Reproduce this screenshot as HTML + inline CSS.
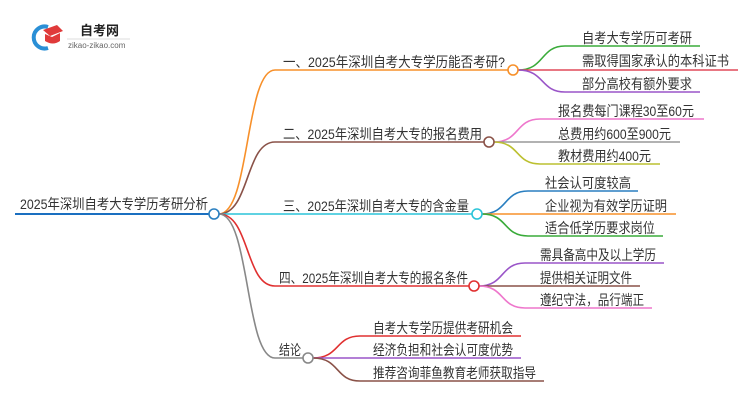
<!DOCTYPE html>
<html><head><meta charset="utf-8"><style>
body{margin:0;background:#fff;}
svg text{font-family:"Liberation Sans","Noto Sans CJK SC",sans-serif;font-size:14px;fill:#333;}
</style></head><body>
<svg width="750" height="410" viewBox="0 0 750 410" xmlns="http://www.w3.org/2000/svg">
<path d="M48,27 A11,11 0 1 0 48,48" stroke="#2a8fd6" stroke-width="4" fill="none"/>
<polygon points="43,30 57,25 63,31 50,36" fill="#e03a3a"/>
<path d="M45,34 L45,41 Q53,46 60,41 L60,33 L52,37 Z" fill="#e03a3a"/>
<text x="80" y="35" style="font-size:13px;font-weight:bold;fill:#222">自考网</text>
<line x1="67" y1="39" x2="130" y2="39" stroke="#ddd" stroke-width="1"/>
<text x="68" y="48" style="font-size:8px;fill:#666">zikao-zikao.com</text>

<g fill="none" stroke-width="1.6">
<line x1="15" y1="214" x2="209" y2="214" stroke="#1a6fc0" stroke-width="2"/>
<path d="M219,214 C250,214 245,70 275,70 L508,70" stroke="#f7902a"/>
<path d="M219,214 C250,214 245,142 275,142 L484,142" stroke="#8a5248"/>
<path d="M219,214 L472,214" stroke="#2ac4d8"/>
<path d="M219,214 C250,214 245,286 275,286 L469,286" stroke="#e03030"/>
<path d="M219,214 C250,214 245,358 275,358 L303,358" stroke="#888"/>
<path d="M518,70 C545,70 540,46 565,46 L700,46" stroke="#3aab3a"/>
<path d="M518,70 L738,70" stroke="#e04a5a"/>
<path d="M518,70 C545,70 540,92 565,92 L700,92" stroke="#9a55c8"/>
<path d="M494,142 C520,142 515,119 540,119 L704,119" stroke="#ee77cc"/>
<path d="M494,142 L680,142" stroke="#999"/>
<path d="M494,142 C520,142 515,164 540,164 L660,164" stroke="#bcc030"/>
<path d="M482,214 C508,214 503,191 528,191 L638,191" stroke="#2a7fc0"/>
<path d="M482,214 L676,214" stroke="#f7902a"/>
<path d="M482,214 C508,214 503,236 528,236 L663,236" stroke="#3aab3a"/>
<path d="M479,286 C505,286 500,263 525,263 L664,263" stroke="#9a55c8"/>
<path d="M479,286 L640,286" stroke="#8a5248"/>
<path d="M479,286 C505,286 500,308 525,308 L652,308" stroke="#ee77cc"/>
<path d="M313,358 C340,358 335,336 360,336 L521,336" stroke="#e03030"/>
<path d="M313,358 L521,358" stroke="#9a55c8"/>
<path d="M313,358 C340,358 335,381 360,381 L544,381" stroke="#8a5248"/>
</g>
<g fill="#fff" stroke-width="1.6">
<circle cx="214" cy="214" r="5" stroke="#2a7fc0"/>
<circle cx="513" cy="70" r="5" stroke="#f7902a"/>
<circle cx="489" cy="142" r="5" stroke="#8a5248"/>
<circle cx="477" cy="214" r="5" stroke="#2ac4d8"/>
<circle cx="474" cy="286" r="5" stroke="#e03030"/>
<circle cx="308" cy="358" r="5" stroke="#888"/>
</g>
<text x="20" y="209" textLength="188" lengthAdjust="spacingAndGlyphs">2025年深圳自考大专学历考研分析</text>
<text x="283" y="67" textLength="222" lengthAdjust="spacingAndGlyphs">一、2025年深圳自考大专学历能否考研?</text>
<text x="283" y="139" textLength="199" lengthAdjust="spacingAndGlyphs">二、2025年深圳自考大专的报名费用</text>
<text x="283" y="211" textLength="186" lengthAdjust="spacingAndGlyphs">三、2025年深圳自考大专的含金量</text>
<text x="279" y="283" textLength="189" lengthAdjust="spacingAndGlyphs">四、2025年深圳自考大专的报名条件</text>
<text x="279" y="355" textLength="22" lengthAdjust="spacingAndGlyphs">结论</text>
<text x="582" y="43" textLength="110" lengthAdjust="spacingAndGlyphs">自考大专学历可考研</text>
<text x="582" y="66" textLength="147" lengthAdjust="spacingAndGlyphs">需取得国家承认的本科证书</text>
<text x="582" y="89" textLength="110" lengthAdjust="spacingAndGlyphs">部分高校有额外要求</text>
<text x="558" y="116" textLength="136" lengthAdjust="spacingAndGlyphs">报名费每门课程30至60元</text>
<text x="558" y="139" textLength="113" lengthAdjust="spacingAndGlyphs">总费用约600至900元</text>
<text x="558" y="161" textLength="93" lengthAdjust="spacingAndGlyphs">教材费用约400元</text>
<text x="545" y="188" textLength="86" lengthAdjust="spacingAndGlyphs">社会认可度较高</text>
<text x="545" y="211" textLength="122" lengthAdjust="spacingAndGlyphs">企业视为有效学历证明</text>
<text x="545" y="233" textLength="110" lengthAdjust="spacingAndGlyphs">适合低学历要求岗位</text>
<text x="540" y="260" textLength="116" lengthAdjust="spacingAndGlyphs">需具备高中及以上学历</text>
<text x="540" y="283" textLength="92" lengthAdjust="spacingAndGlyphs">提供相关证明文件</text>
<text x="540" y="305" textLength="104" lengthAdjust="spacingAndGlyphs">遵纪守法，品行端正</text>
<text x="373" y="333" textLength="140" lengthAdjust="spacingAndGlyphs">自考大专学历提供考研机会</text>
<text x="373" y="355" textLength="140" lengthAdjust="spacingAndGlyphs">经济负担和社会认可度优势</text>
<text x="373" y="378" textLength="163" lengthAdjust="spacingAndGlyphs">推荐咨询菲鱼教育老师获取指导</text>
</svg>
</body></html>
